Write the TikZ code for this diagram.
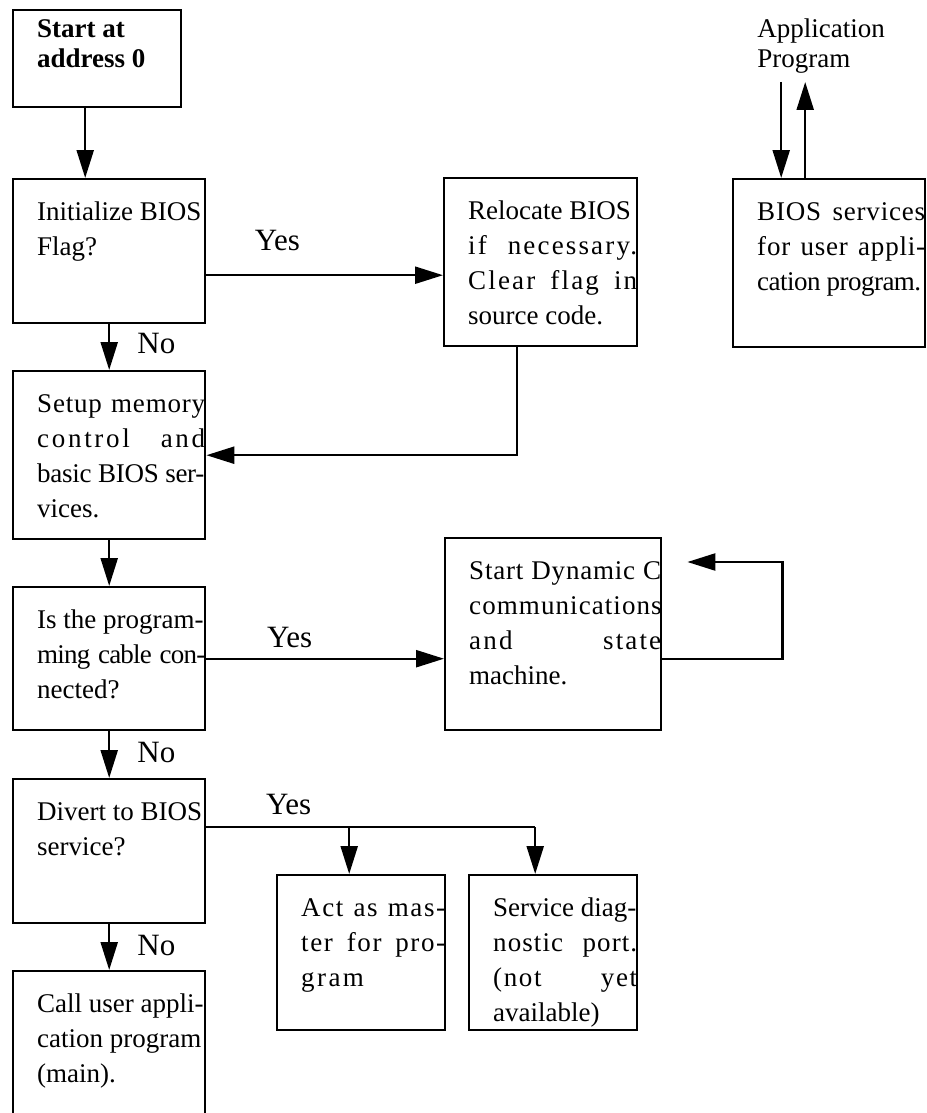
\documentclass[tikz,border=0pt]{standalone}
\usepackage{fontspec}
\setmainfont{Liberation Serif}
\usepackage{tikz}
\usetikzlibrary{calc}
\usetikzlibrary{arrows.meta}
\usetikzlibrary{positioning}

\newcommand{\boxtext}[4][20.5pt]{\parbox[c][#3][t]{#2}{\leftskip=12pt\rule{0pt}{#1}#4}}
\newcommand{\spaced}[2]{{\addfontfeature{LetterSpace=#1}#2}}
\newcommand{\fl}[1]{\makebox[\dimexpr\linewidth-12pt\relax][s]{#1}}

\begin{document}
\begin{tikzpicture}[x=0.5pt, y=-0.5pt,
		box/.style={draw, line width=1.2pt, inner sep=0pt, anchor=north west, font=\fontsize{13.5}{17.5}\selectfont},
		arr/.style={line width=1.2pt, -{Triangle[length=14pt,width=8.5pt]}},
		lbl/.style={inner sep=0pt, font=\fontsize{13.5}{15}\selectfont},
		yn/.style={inner sep=0pt, font=\fontsize{15.5}{18}\selectfont}]
		\useasboundingbox (0,0) rectangle (926,1113);
		
		\node[box, font=\bfseries\fontsize{13.5}{15}\selectfont] (start) at (12,9) {\boxtext[13.5pt]{84pt}{48.5pt}{Start at\\address 0}};
		\node[box] (init) at (12,178) {\boxtext{96pt}{72pt}{Initialize BIOS\\Flag?}};
		\node[box] (setup) at (12,370) {\boxtext{96pt}{84pt}{\fl{\spaced{3}{Setup memory}}\\\fl{\spaced{10}{control and}}\\\spaced{-1}{basic BIOS ser-}\\vices.}};
		\node[box] (isthe) at (12,586) {\boxtext{96pt}{71.5pt}{Is the program-\\\fl{\spaced{-3}{ming cable con-}}\\nected?}};
		\node[box] (divert) at (12,778) {\boxtext{96pt}{72pt}{Divert to BIOS\\service?}};
		\node[box] (call) at (12,970) {\boxtext{96pt}{85pt}{Call user appli-\\cation program\\(main).}};
		
		\node[box] (reloc) at (443,177) {\boxtext{96.5pt}{84pt}{Relocate BIOS\\\fl{\spaced{8}{if necessary.}}\\\fl{\spaced{8}{Clear flag in}}\\source code.}};
		\node[box] (dyn) at (444,537) {\boxtext{108pt}{96pt}{\fl{\spaced{3}{Start Dynamic C}}\\\spaced{4}{communications}\\\fl{\spaced{8}{and state}}\\machine.}};
		\node[box] (act) at (276,874) {\boxtext{84pt}{77.5pt}{\fl{\spaced{6}{Act as mas-}}\\\fl{\spaced{6}{ter for pro-}}\\\spaced{9}{gram}}};
		\node[box] (service) at (468,874) {\boxtext{84pt}{77.5pt}{Service diag-\\\fl{\spaced{4}{nostic port.}}\\\fl{\spaced{6}{(not yet}}\\available)}};
		
		\node[box] (bios) at (732,178) {\boxtext{96pt}{84pt}{\fl{\spaced{3}{BIOS services}}\\\fl{\spaced{3}{for user appli-}}\\\spaced{-2}{cation program.}}};
		\node[lbl, align=left, anchor=south west, inner ysep=4pt] (app) at (757,82) {Application\\Program};
		
		\coordinate (sin) at ([xshift=-12pt]init.north);
		\draw[arr] (sin |- start.south) -- (sin);
		\draw[arr] (init) -- node[yn, right=13.5pt, yshift=2pt]{No} (setup);
		\draw[arr] (setup) -- (isthe);
		\draw[arr] (isthe) -- node[yn, right=13.5pt, yshift=1pt]{No} (divert);
		\draw[arr] (divert) -- node[yn, right=13.5pt, yshift=1pt]{No} (call);
		
		\draw[arr] ([yshift=-12pt]init.east) coordinate (yes1) -- node[yn, pos=0.3, above=11.5pt]{Yes} (yes1 -| reloc.west);
		\coordinate (relout) at ([xshift=-12pt]reloc.south);
		\draw[arr] (relout) |- (setup.east);
		
		\draw[arr] (isthe.east) -- node[yn, pos=0.35, above=5pt]{Yes} (isthe.east -| dyn.west);
		\coordinate (loopin) at ([shift={(12.5pt,-12.5pt)}]dyn.north east);
		\draw[arr] (isthe.east -| dyn.east) -- ++(60pt,0) |- (loopin);
		
		\coordinate (actin) at ([xshift=-6pt]act.north);
		\coordinate (svcin) at ([xshift=-9pt]service.north);
		\draw[line width=1.2pt] ([yshift=12pt]divert.east) coordinate (yes3) -- node[yn, pos=0.25, above=5.5pt]{Yes} (yes3 -| svcin);
		\draw[arr] (yes3 -| actin) -- (actin);
		\draw[arr] (yes3 -| svcin) -- (svcin);
		
		\coordinate (biosin) at ([xshift=-24pt]bios.north);
		\coordinate (biosout) at ([xshift=-12pt]bios.north);
		\draw[arr] (biosin |- app.south) -- (biosin);
		\draw[arr] (biosout) -- (biosout |- app.south);
	\end{tikzpicture}
\end{document}
